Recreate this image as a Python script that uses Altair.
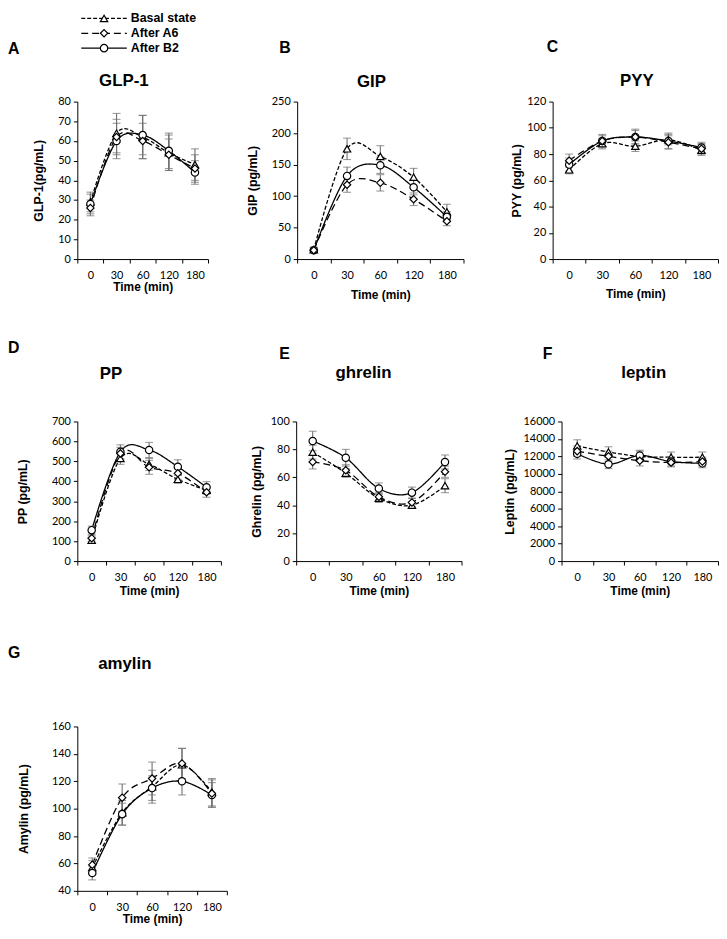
import altair as alt
import pandas as pd

# ---------------- data ----------------
times = ["0", "30", "60", "120", "180"]
series = ["Basal state", "After A6", "After B2"]
letters = ["A", "B", "C", "D", "E", "F", "G"]
titles = ["GLP-1", "GIP", "PYY", "PP", "ghrelin", "leptin", "amylin"]
ytitles = ["GLP-1(pg/mL)", "GIP (pg/mL)", "PYY (pg/mL)", "PP (pg/mL)",
           "Ghrelin (pg/mL)", "Leptin (pg/mL)", "Amylin (pg/mL)"]

# mean values per series (Basal, A6, B2) and SEM
glp1_mean = [[29, 64, 62, 54, 48], [26, 62, 60, 53, 46], [28, 60, 63, 55, 44]]
glp1_err = [[5, 10, 11, 9, 8], [4, 9, 9, 8, 7], [5, 9, 10, 9, 6]]

gip_mean = [[15, 175, 163, 130, 75], [14, 118, 121, 95, 60], [14, 132, 149, 114, 67]]
gip_err = [[4, 17, 17, 14, 12], [3, 12, 13, 10, 7], [4, 14, 13, 12, 8]]

pyy_mean = [[68, 88, 86, 91, 83], [75, 90, 93, 89, 84], [72, 90, 93, 90, 85]]
pyy_err = [[3, 4, 4, 4, 4], [5, 4, 5, 5, 4], [5, 5, 6, 6, 4]]

pp_mean = [[105, 515, 485, 410, 355], [115, 540, 470, 440, 345], [155, 548, 557, 473, 370]]
pp_err = [[15, 30, 30, 20, 20], [15, 30, 35, 30, 25], [20, 35, 38, 35, 28]]

ghrelin_mean = [[78, 63, 45, 40, 54], [71, 65, 46, 42, 64], [86, 74, 52, 49, 71]]
ghrelin_err = [[5, 3, 3, 2, 5], [5, 4, 3, 3, 4], [7, 6, 4, 4, 5]]

leptin_mean = [[13200, 12500, 12000, 11900, 11900], [12600, 12000, 11500, 11300, 11400],
               [12300, 11100, 12100, 11400, 11200]]
leptin_err = [[700, 600, 600, 600, 600], [600, 600, 600, 500, 500], [600, 500, 600, 500, 500]]

amylin_mean = [[57, 97, 116, 132, 112], [59, 108, 122, 133, 111], [53, 96, 115, 120, 110]]
amylin_err = [[5, 9, 12, 12, 10], [5, 10, 12, 11, 10], [5, 8, 9, 10, 9]]

y_domains = [[0, 80], [0, 250], [0, 120], [0, 700], [0, 100], [0, 16000], [40, 160]]
y_steps = [10, 50, 20, 100, 20, 2000, 20]

# ---------------- style ----------------
BOLD = "Liberation Sans"
LAB = "Lato"
GRAY = "#707070"

dash_scale = alt.Scale(domain=series, range=[[4, 2], [7, 4], [1, 0]])
shape_scale = alt.Scale(domain=series, range=["triangle-up", "diamond", "circle"])


def make_df(means, errs):
    rows = []
    for s, m, e in zip(series, means, errs):
        for t, v, d in zip(times, m, e):
            rows.append({"time": t, "series": s, "value": v, "lo": v - d, "hi": v + d})
    return pd.DataFrame(rows)


def panel(i, means, errs, w, h, ytp, xtp, msize, lpos, tpos):
    df = make_df(means, errs)
    ydom = y_domains[i]
    yvals = list(range(ydom[0], ydom[1] + 1, y_steps[i]))
    x = alt.X("time:N", sort=times,
              scale=alt.Scale(type="band", domain=times, paddingInner=0, paddingOuter=0),
              axis=alt.Axis(title="Time (min)", labelAngle=0, tickBand="extent",
                            tickSize=4, labelPadding=7, titlePadding=xtp,
                            labelFont=LAB, labelFontSize=11, labelColor="black",
                            titleFont=BOLD, titleFontSize=12, titleFontWeight="bold",
                            titleColor="black", domainColor="black", tickColor="black",
                            grid=False))
    yaxis = alt.Axis(title=ytitles[i], values=yvals, format="d", tickSize=4, labelPadding=3,
                     titlePadding=ytp, labelFont=LAB, labelFontSize=11,
                     labelColor="black", labelOverlap=False,
                     titleFont=BOLD, titleFontSize=12.5, titleFontWeight="bold",
                     titleColor="black", domainColor="black", tickColor="black",
                     grid=False)
    yscale = alt.Scale(domain=ydom, nice=False, zero=False)
    base = alt.Chart(df)
    lines = base.mark_line(interpolate="cardinal", color="black", strokeWidth=1.3).encode(
        x=x, y=alt.Y("value:Q", scale=yscale, axis=yaxis),
        strokeDash=alt.StrokeDash("series:N", scale=dash_scale, legend=None),
        detail="series:N")
    bars = base.mark_rule(color=GRAY, strokeWidth=1.1).encode(
        x=x, y=alt.Y("lo:Q", scale=yscale, axis=yaxis), y2="hi:Q")
    cap_hi = base.mark_tick(color=GRAY, orient="horizontal", size=8, thickness=1.1).encode(
        x=x, y=alt.Y("hi:Q", scale=yscale, axis=yaxis))
    cap_lo = base.mark_tick(color=GRAY, orient="horizontal", size=8, thickness=1.1).encode(
        x=x, y=alt.Y("lo:Q", scale=yscale, axis=yaxis))
    pts = base.mark_point(filled=True, color="white", stroke="black", strokeWidth=1.2,
                          opacity=1).encode(
        x=x, y=alt.Y("value:Q", scale=yscale, axis=yaxis),
        shape=alt.Shape("series:N", scale=shape_scale, legend=None),
        size=alt.Size("series:N", scale=alt.Scale(domain=series, range=msize), legend=None),
        order=alt.Order("series:N", sort="descending"))
    ann = alt.Chart(pd.DataFrame({"letter": [letters[i]], "title": [titles[i]]}))
    let = ann.mark_text(align="left", baseline="alphabetic", font=BOLD, fontWeight="bold",
                        fontSize=16, color="black").encode(
        x=alt.value(lpos[0]), y=alt.value(lpos[1]), text="letter:N")
    tit = ann.mark_text(align="center", baseline="alphabetic", font=BOLD, fontWeight="bold",
                        fontSize=17, color="black").encode(
        x=alt.value(tpos[0]), y=alt.value(tpos[1]), text="title:N")
    return alt.layer(lines, bars, cap_hi, cap_lo, pts, let, tit).properties(width=w, height=h)


A = panel(0, glp1_mean, glp1_err, 132, 159, 12, 1, [55, 55, 90], (-70, -48), (47, -16))
B = panel(1, gip_mean, gip_err, 168, 159, 12, 9, [65, 65, 110], (-18, -49), (75, -15))
C = panel(2, pyy_mean, pyy_err, 167, 159, 3, 8, [65, 65, 110], (-6, -50), (85, -16))
D = panel(3, pp_mean, pp_err, 145, 141, 22, 3, [65, 65, 110], (-70, -69), (34, -43))
E = panel(4, ghrelin_mean, ghrelin_err, 167, 141, 7, 3, [80, 80, 140], (-17, -63), (68, -44))
F = panel(5, leptin_mean, leptin_err, 158, 141, 7, 3, [60, 60, 100], (-19, -63), (83, -44))
G = panel(6, amylin_mean, amylin_err, 151, 166, 21, 1, [65, 65, 110], (-70, -69), (48, -58))

# ---------------- legend ----------------
legend_df = pd.DataFrame({"series": series, "row": [0, 1, 2]})
ly = alt.Y("row:Q", scale=alt.Scale(domain=[0, 2], reverse=True), axis=None)
lg = alt.Chart(legend_df)
lg_line = lg.mark_rule(color="black", strokeWidth=1.2).encode(
    x=alt.value(4), x2=alt.value(50), y=ly,
    strokeDash=alt.StrokeDash("series:N", scale=dash_scale, legend=None))
lg_pt = lg.mark_point(filled=True, color="white", stroke="black", strokeWidth=1.2,
                      opacity=1).encode(
    x=alt.value(27), y=ly,
    shape=alt.Shape("series:N", scale=shape_scale, legend=None),
    size=alt.Size("series:N", scale=alt.Scale(domain=series, range=[55, 55, 90]), legend=None))
lg_txt = lg.mark_text(align="left", baseline="middle", font=BOLD, fontWeight="bold",
                      fontSize=12.5, color="black").encode(
    x=alt.value(54), y=ly, text="series:N")
legend = alt.layer(lg_line, lg_pt, lg_txt).properties(width=200, height=30)

# nested concat groups count as zero-size under "flush" bounds, so the spacing
# after a nested group is the distance between the row tops
row1 = alt.hconcat(A, B, C, spacing=90, bounds="flush")
row2 = alt.hconcat(D, alt.hconcat(E, F, spacing=101, bounds="flush"), spacing=76, bounds="flush")
lower = alt.vconcat(row2, G, spacing=308, bounds="flush")
grid = alt.vconcat(row1, lower, spacing=323, bounds="flush")

chart = alt.vconcat(legend, grid, spacing=54, bounds="flush").properties(
    padding=0, background="white").configure_view(stroke=None)

chart.save("out.html", embed_options={"renderer": "svg", "actions": False})
